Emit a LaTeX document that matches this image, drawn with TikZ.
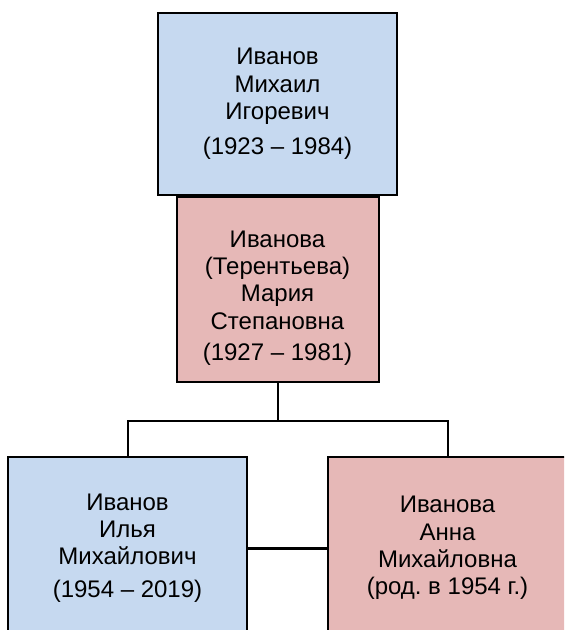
\documentclass[tikz,border=0pt]{standalone}
\usepackage{fontspec}
\setmainfont{Liberation Sans}
\usetikzlibrary{positioning}
\definecolor{manblue}{RGB}{198,217,240}
\definecolor{womanpink}{RGB}{230,184,183}

\begin{document}
\begin{tikzpicture}[x=0.75pt, y=-0.75pt,
  person/.style={draw, line width=1.5pt, align=center, inner sep=0pt,
                 font=\fontsize{18}{20.5}\selectfont},
  man/.style={person, fill=manblue, minimum width=179.25pt, minimum height=136.5pt},
  woman/.style={person, fill=womanpink},
  link/.style={line width=1.5pt},
  bond/.style={line width=2.25pt}]

  \useasboundingbox (0,0) rectangle (564,630);
  \clip (0,0) rectangle (564,630);
  \fill[white] (0,0) rectangle (564,630);

  \node[man] (mikhail) at (277.5,104)
    {Иванов\\ Михаил\\ Игоревич\\[6pt] (1923 – 1984)};
  \node[woman, minimum width=151.5pt, minimum height=138.75pt, text height=110pt,
        below=0pt of mikhail] (maria)
    {Иванова\\ (Терентьева)\\ Мария\\ Степановна\\[3pt] (1927 – 1981)};

  \node[man] (ilya) at (127.5,548)
    {Иванов\\ Илья\\ Михайлович\\[4pt] (1954 – 2019)};
  \node[woman, minimum width=179.25pt, minimum height=136.5pt] (anna) at (447.5,548)
    {Иванова\\ Анна\\ Михайловна\\ (род.\ в 1954 г.)};

  \coordinate[below=28.5pt of maria.south] (fork);

  \draw[link] (maria) -- (fork);
  \draw[link] (fork) -| (ilya);
  \draw[link] (fork) -| (anna);
  \draw[bond] (ilya) -- (anna);
\end{tikzpicture}
\end{document}
